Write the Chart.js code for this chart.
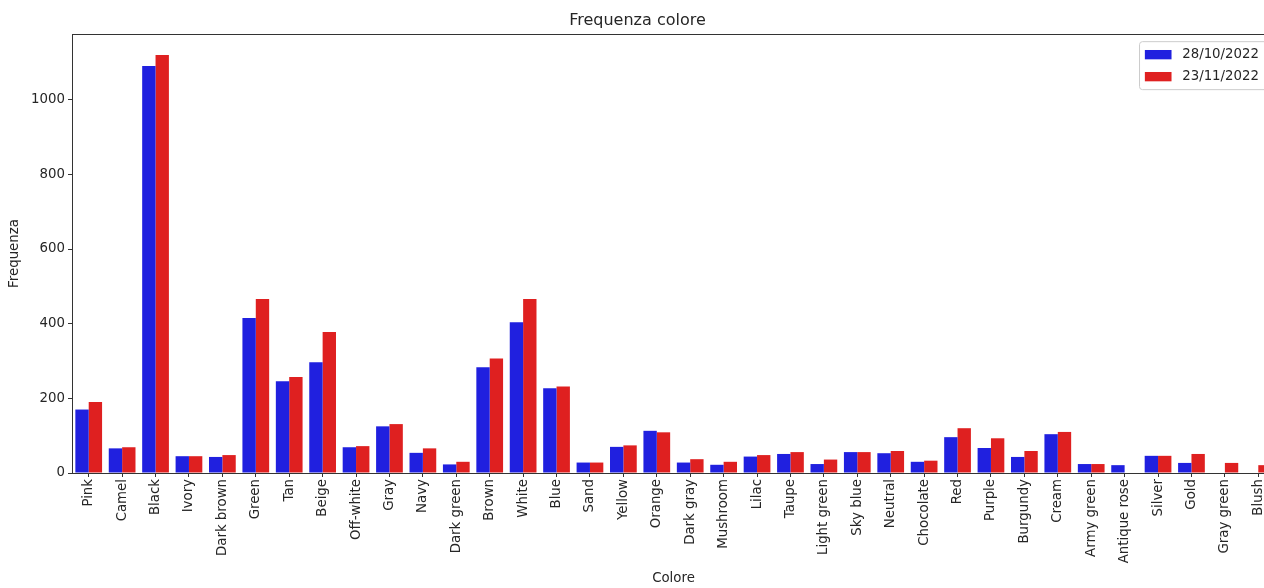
<!DOCTYPE html>
<html><head><meta charset="utf-8">
<script src="https://cdn.jsdelivr.net/npm/chart.js@4.4.0/dist/chart.umd.min.js"></script>
<style>html,body{margin:0;padding:0;background:#fff;overflow:hidden;width:1264px;height:588px}canvas{display:block}</style>
</head><body>
<canvas id="c" width="1290" height="588" style="width:1290px;height:588px"></canvas>
<script>
const categories = ['Pink','Camel','Black','Ivory','Dark brown','Green','Tan','Beige','Off-white','Gray','Navy','Dark green','Brown','White','Blue','Sand','Yellow','Orange','Dark gray','Mushroom','Lilac','Taupe','Light green','Sky blue','Neutral','Chocolate','Red','Purple','Burgundy','Cream','Army green','Antique rose','Silver','Gold','Gray green','Blush'];
const series1Label = '28/10/2022';
const series2Label = '23/11/2022';
const values1 = [170,66,1090,45,43,415,246,297,69,125,54,23,283,404,227,28,70,113,28,22,44,51,24,56,53,30,96,67,43,104,24,21,46,27,null,null];
const values2 = [190,69,1120,45,48,466,257,378,72,131,66,30,307,466,232,28,74,109,37,30,48,56,36,56,59,33,120,93,59,110,24,null,46,51,27,21];
const yTickValues = [0,200,400,600,800,1000];
const yMax = 1176;
const chartTitle = 'Frequenza colore';
const xTitle = 'Colore';
const yTitle = 'Frequenza';

const FONT = 'DejaVu Sans';
const TXT = '#262626';

const framePlugin = {
  id: 'frame',
  afterDatasetsDraw(chart) {
    const {ctx, chartArea: a} = chart;
    ctx.save();
    ctx.strokeStyle = '#333';
    ctx.lineWidth = 1;
    ctx.strokeRect(Math.round(a.left) + 0.5, Math.round(a.top) + 0.5, Math.round(a.right - a.left), Math.round(a.bottom - a.top));
    ctx.restore();
  }
};

const legendPlugin = {
  id: 'mplLegend',
  afterDraw(chart) {
    const {ctx, chartArea: a} = chart;
    const fs = 13.33;
    ctx.save();
    ctx.font = fs + 'px "' + FONT + '"';
    const ds = chart.data.datasets;
    let tw = 0;
    ds.forEach(d => { tw = Math.max(tw, ctx.measureText(d.label).width); });
    const pad = 0.4 * fs, hl = 2 * fs, htp = 0.8 * fs, rowH = fs * 1.15, sp = 0.5 * fs;
    const w = pad * 2 + hl + htp + tw + 4;
    const h = pad * 2 + ds.length * rowH + (ds.length - 1) * sp;
    const x0 = a.right - 0.5 * fs - w;
    const y0 = a.top + 0.5 * fs + 1;
    ctx.fillStyle = 'rgba(255,255,255,0.8)';
    ctx.strokeStyle = '#cccccc';
    ctx.lineWidth = 1;
    ctx.beginPath();
    ctx.roundRect(x0, y0, w, h, 3);
    ctx.fill();
    ctx.stroke();
    ds.forEach((d, i) => {
      const cy = y0 + pad + i * (rowH + sp) + rowH / 2;
      ctx.fillStyle = d.backgroundColor;
      ctx.fillRect(x0 + pad, cy - 0.35 * fs, hl, 0.7 * fs);
      ctx.fillStyle = TXT;
      ctx.textBaseline = 'middle';
      ctx.textAlign = 'left';
      ctx.fillText(d.label, x0 + pad + hl + htp, cy);
    });
    ctx.restore();
  }
};

new Chart(document.getElementById('c'), {
  type: 'bar',
  data: {
    labels: categories,
    datasets: [
      {label: series1Label, data: values1, backgroundColor: '#2020df', borderWidth: 0},
      {label: series2Label, data: values2, backgroundColor: '#df2020', borderWidth: 0}
    ]
  },
  options: {
    responsive: false,
    animation: false,
    categoryPercentage: 0.8,
    barPercentage: 1.0,
    layout: {padding: {left: 0, right: 15, top: 0, bottom: 0}},
    plugins: {
      legend: {display: false},
      tooltip: {enabled: false},
      title: {display: true, text: chartTitle, color: TXT, font: {family: FONT, size: 16, weight: 'normal'}, padding: {top: 11, bottom: 3.8}}
    },
    scales: {
      x: {
        grid: {display: true, drawOnChartArea: false, drawTicks: true, tickLength: 4, color: '#333', offset: false},
        border: {display: false},
        ticks: {autoSkip: false, minRotation: 90, maxRotation: 90, padding: 2, color: TXT, font: {family: FONT, size: 13.33}},
        title: {display: true, text: xTitle, color: TXT, font: {family: FONT, size: 13.33}, padding: {top: 0, bottom: 1}},
        afterFit(s) { s.height = 115; }
      },
      y: {
        min: 0, max: yMax,
        grid: {display: true, drawOnChartArea: false, drawTicks: true, tickLength: 4, color: '#333'},
        border: {display: false},
        afterBuildTicks(s) { s.ticks = yTickValues.map(v => ({value: v})); },
        ticks: {includeBounds: false, padding: 3, color: TXT, font: {family: FONT, size: 13.33}, callback: v => String(v)},
        title: {display: true, text: yTitle, color: TXT, font: {family: FONT, size: 13.33}, padding: {top: 7, bottom: 0}},
        afterFit(s) { s.width = 72; }
      }
    }
  },
  plugins: [framePlugin, legendPlugin]
});
</script>
</body></html>
